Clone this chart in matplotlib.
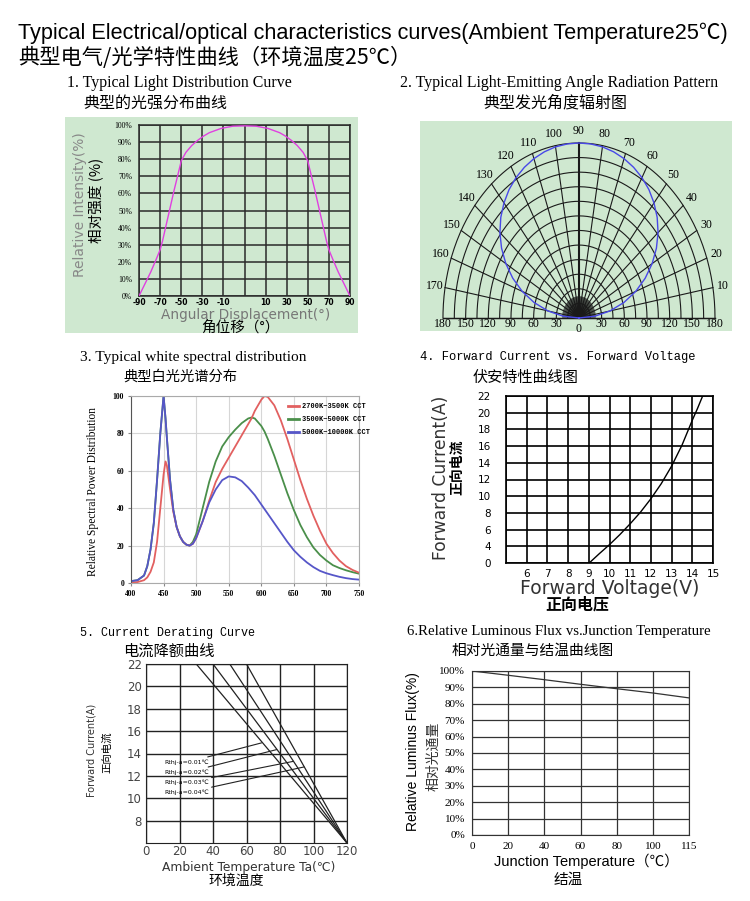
import numpy as np
import matplotlib
matplotlib.use('Agg')
import matplotlib.pyplot as plt

W, H = 750, 901
GREEN = '#cfe8d0'
SANS = ['Liberation Sans', 'Noto Sans CJK SC']
SERIF = ['Liberation Serif', 'Noto Sans CJK SC']
MONO = ['Liberation Mono', 'Noto Sans CJK SC']
DEJA = ['DejaVu Sans', 'Noto Sans CJK SC']
CJK = ['Noto Sans CJK SC', 'DejaVu Sans']

# 1. light distribution curve (angle in deg, relative intensity in %)
dist_angle = [-90, -85, -80, -75, -72, -70, -65, -60, -55, -54, -50, -45, -40, -35, -30, -20, -10, 0,
              10, 20, 30, 35, 40, 45, 50, 54, 55, 60, 65, 70, 72, 75, 80, 85, 90]
dist_int = [0, 7, 14, 22, 27, 32, 47, 62, 76, 79, 84, 88, 91, 93.5, 95.5, 98, 99.3, 99.5,
            99.3, 98, 95.5, 93.5, 91, 88, 84, 79, 76, 62, 47, 32, 27, 22, 14, 7, 0]
dist_ticks = ['-90', '-70', '-50', '-30', '-10', '', '10', '30', '50', '70', '90']

# 2. radiation pattern (angle in deg, relative intensity in %)
rad_angle = list(range(0, 181, 5))
rad_int = [0, 11.8, 23.2, 34.2, 44.4, 53.7, 62.1, 69.5, 75.9, 81.3, 85.8, 89.6, 92.6, 95.0, 96.9,
           98.3, 99.3, 99.8, 100, 99.8, 99.3, 98.3, 96.9, 95.0, 92.6, 89.6, 85.8, 81.3, 75.9,
           69.5, 62.1, 53.7, 44.4, 34.2, 23.2, 11.8, 0]

# 3. white spectra
wl = [400, 410, 420, 425, 430, 435, 440, 445, 450, 453, 455, 460, 465, 470, 475, 480, 485, 490, 495, 500,
      510, 520, 530, 540, 550, 560, 570, 580, 585, 590, 600, 605, 610, 620, 630, 640, 650, 660, 670, 680,
      690, 700, 710, 720, 730, 740, 750]
warm = [0, 0.5, 1.5, 3, 6, 11, 22, 40, 58, 65, 63, 50, 38, 30, 25, 22, 20.5, 20, 21, 24,
        33, 44, 54, 61, 67, 73, 79, 85, 88, 92, 98, 100, 99.5, 95, 87, 77, 66, 55, 45, 36,
        28, 21, 16, 12, 9, 7, 5.5]
neutral = [1, 1.5, 4, 9, 18, 32, 55, 80, 100, 88, 78, 55, 39, 30, 25, 22, 20.5, 20, 22, 26,
           40, 54, 65, 73, 78, 82, 85.5, 88, 88.5, 88, 84, 81, 77, 68, 58, 48, 39, 31, 24.5, 19,
           15, 12, 9.5, 8, 6.8, 5.8, 5]
cool = [1, 1.5, 4, 9, 18, 32, 55, 80, 100, 88, 78, 55, 39, 30, 25, 22, 20.5, 20, 21, 24,
        33, 43, 50, 55, 57, 56.5, 54.5, 51, 49, 47, 42, 39.5, 37, 32, 27, 22, 17.5, 14, 11, 8.5,
        6.5, 5.2, 4.2, 3.3, 2.6, 2.1, 1.8]
spec_labels = ['2700K~3500K CCT', '3500K~5000K CCT', '5000K~10000K CCT']

# 4. forward current vs voltage (current on the chart's own grid, bottom line labelled 0)
fv_volt = [9.02, 9.5, 10, 10.5, 11, 11.5, 12, 12.5, 13, 13.5, 14, 14.25, 14.5]
fv_curr = [2.0, 3.1, 4.2, 5.4, 6.7, 8.1, 9.7, 11.5, 13.6, 16.1, 19.1, 20.5, 22]
fv_ylabels = ['0', '4', '6', '8', '10', '12', '14', '16', '18', '20', '22']

# 5. current derating
derate_start = [30, 40, 50, 60]
derate_end = (120, 6)
rth_labels = ['Rthj-a=0.01℃', 'Rthj-a=0.02℃', 'Rthj-a=0.03℃', 'Rthj-a=0.04℃']
rth_text_y = [13.2, 12.3, 11.4, 10.5]
rth_tip = [(69, 14.95), (78, 14.35), (88, 13.3), (94.4, 12.8)]

# 6. luminous flux vs junction temperature
tj = [0, 20, 40, 60, 80, 100, 115]
flux = [100, 97.4, 94.7, 91.9, 89.2, 86.6, 83.6]

fig = plt.figure(figsize=(7.5, 9.01), dpi=100)


def box(l, t, r, b):
    return fig.add_axes([l / W, 1 - b / H, (r - l) / W, (b - t) / H])


def label(x, y, s, size, family=SANS, **kw):
    kw.setdefault('va', 'center')
    fig.text(x / W, 1 - y / H, s, fontsize=size, family=family, **kw)


def tick_font(ax, size, family, color='black', weight='normal'):
    for t in ax.get_xticklabels() + ax.get_yticklabels():
        t.set_fontsize(size)
        t.set_family(family)
        t.set_color(color)
        t.set_weight(weight)


# titles
label(18, 33, 'Typical Electrical/optical characteristics curves(Ambient Temperature25℃)', 15.6)
label(18, 58, '典型电气/光学特性曲线（环境温度25℃）', 15.3, CJK)
label(67, 83, '1. Typical Light Distribution Curve', 11.4, SERIF)
label(83, 103, '典型的光强分布曲线', 11.5, CJK)
label(400, 83, '2. Typical Light-Emitting Angle Radiation Pattern', 11.4, SERIF)
label(483, 103, '典型发光角度辐射图', 11.5, CJK)
label(80, 357, '3. Typical white spectral distribution', 11.1, SERIF)
label(123, 377, '典型白光光谱分布', 10.3, CJK)
label(420, 357, '4. Forward Current vs. Forward Voltage', 8.7, MONO)
label(473, 377, '伏安特性曲线图', 10.9, CJK)
label(80, 633, '5. Current Derating Curve', 8.5, MONO)
label(123, 651, '电流降额曲线', 11, CJK)
label(407, 632, '6.Relative Luminous Flux vs.Junction Temperature', 10.6, SERIF)
label(452, 651, '相对光通量与结温曲线图', 10.6, CJK)

# ---- 1. light distribution
bg = box(65, 117, 358, 333)
bg.set_facecolor(GREEN)
bg.set_xticks([])
bg.set_yticks([])
for s in bg.spines.values():
    s.set_visible(False)

ax1 = box(139, 125, 350, 296)
ax1.set_facecolor(GREEN)
ax1.plot(dist_angle, dist_int, color='#e040e0', lw=1, zorder=3)
ax1.set_xlim(-90, 90)
ax1.set_ylim(0, 100)
ax1.set_xticks(np.linspace(-90, 90, 11))
ax1.set_xticklabels(dist_ticks)
ax1.set_yticks(range(0, 101, 10))
ax1.set_yticklabels([f'{v}%' for v in range(0, 101, 10)])
ax1.grid(color='#2a2a2a', lw=1.1)
for s in ax1.spines.values():
    s.set_color('#2a2a2a')
    s.set_linewidth(1.1)
ax1.tick_params(length=0)
ax1.tick_params(axis='y', pad=5)
ax1.tick_params(axis='x', pad=1.5)
tick_font(ax1, 5.5, SERIF)
for t in ax1.get_xticklabels():
    t.set_family(DEJA)
    t.set_weight('bold')
label(80, 205, 'Relative Intensity(%)', 10, DEJA, rotation=90, ha='center', color='#888888')
label(97, 200, '相对强度 (%)', 10.5, CJK, rotation=90, ha='center')
label(246, 314.5, 'Angular Displacement(°)', 9.8, DEJA, ha='center', color='#777777')
label(240, 327.5, '角位移（°）', 10.5, CJK, ha='center')

# ---- 2. radiation pattern
ax2 = box(420, 121, 732, 331)
ax2.set_facecolor(GREEN)
ax2.set_xticks([])
ax2.set_yticks([])
for s in ax2.spines.values():
    s.set_visible(False)
ax2.set_xlim(-210.4, 202.5)
ax2.set_ylim(-13.4, 202.6)
t = np.linspace(0, np.pi, 200)
for r in range(15, 181, 15):
    ax2.plot(r * np.cos(t), r * np.sin(t), color='#1a1a1a', lw=0.8)
for a in range(0, 181, 10):
    th = np.radians(a)
    ax2.plot([0, 180 * np.cos(th)], [0, 180 * np.sin(th)], color='#1a1a1a',
             lw=1.5 if a == 90 else 0.8)
for a in range(0, 181, 2):
    th = np.radians(a)
    ax2.plot([0, 22 * np.cos(th)], [0, 22 * np.sin(th)], color='#1a1a1a', lw=0.4)
ax2.plot([-180, 180], [0, 0], color='#1a1a1a', lw=1)
th = np.radians(rad_angle)
rr = np.array(rad_int) * 1.8
ax2.plot(rr * np.cos(th), rr * np.sin(th), color='#4848e8', lw=1, zorder=4)
for a in range(10, 171, 10):
    th = np.radians(a)
    ax2.text(194 * np.cos(th), 192 * np.sin(th), str(a), ha='center', va='center',
             fontsize=8.5, family=SERIF)
for r in range(30, 181, 30):
    for sgn in (-1, 1):
        ax2.text(sgn * r, -6.5, str(r), ha='center', va='center', fontsize=8.5, family=SERIF)
ax2.text(0, -11, '0', ha='center', va='center', fontsize=8.5, family=SERIF)

# ---- 3. spectra
ax3 = box(131, 396, 359, 583)
ax3.plot(wl, neutral, color='#4a8f4a', lw=1.3, label=spec_labels[1])
ax3.plot(wl, warm, color='#e26060', lw=1.3, label=spec_labels[0])
ax3.plot(wl, cool, color='#5656c8', lw=1.3, label=spec_labels[2])
ax3.set_xlim(400, 750)
ax3.set_ylim(0, 100)
ax3.set_xticks(range(400, 751, 50))
ax3.set_yticks(range(0, 101, 20))
ax3.grid(color='#d6d6d6', lw=0.8)
for s in ax3.spines.values():
    s.set_color('#aaaaaa')
    s.set_linewidth(0.8)
ax3.spines['left'].set_color('#555555')
ax3.tick_params(length=2, color='#888888', pad=3)
tick_font(ax3, 5.5, SERIF, weight='bold')
h, lab = ax3.get_legend_handles_labels()
order = [1, 0, 2]
leg = ax3.legend([h[i] for i in order], [lab[i] for i in order], loc='upper left',
                 bbox_to_anchor=(0.69, 0.96), frameon=False, borderpad=0, borderaxespad=0,
                 handlelength=1.6, handletextpad=0.3, labelspacing=0.85,
                 prop={'family': MONO, 'size': 5, 'weight': 'bold'})
for ln in leg.get_lines():
    ln.set_linewidth(2)
label(93, 492, 'Relative Spectral Power Distribution', 8.3, SERIF, rotation=90, ha='center')

# ---- 4. forward current vs voltage
ax4 = box(506, 396, 713, 563)
ax4.plot(fv_volt, fv_curr, color='black', lw=1)
ax4.set_xlim(5, 15)
ax4.set_ylim(2, 22)
ax4.set_xticks(range(5, 16))
ax4.set_xticklabels([''] + [str(v) for v in range(6, 16)])
ax4.set_yticks(range(2, 23, 2))
ax4.set_yticklabels(fv_ylabels)
ax4.grid(color='black', lw=1.2)
for s in ax4.spines.values():
    s.set_linewidth(1.2)
ax4.tick_params(length=0)
ax4.tick_params(axis='y', pad=11)
ax4.tick_params(axis='x', pad=4)
tick_font(ax4, 7.5, DEJA)
label(441, 478, 'Forward Current(A)', 12.3, DEJA, rotation=90, ha='center', color='#333333')
label(457, 467, '正向电流', 10, CJK, rotation=90, ha='center', weight='bold')
label(610, 589, 'Forward Voltage(V)', 13.5, DEJA, ha='center', color='#333333')
label(577, 605, '正向电压', 11.5, CJK, ha='center', weight='bold')

# ---- 5. current derating
ax5 = box(146, 664, 347, 843)
for t0 in derate_start:
    ax5.plot([t0, derate_end[0]], [22, derate_end[1]], color='#222222', lw=0.9)
for s, ty, tip in zip(rth_labels, rth_text_y, rth_tip):
    ax5.annotate(s, xy=tip, xytext=(37.5, ty), ha='right', va='center', fontsize=4.5,
                 family=DEJA, arrowprops=dict(arrowstyle='-', lw=0.8, color='#222222',
                                              shrinkA=0, shrinkB=0))
ax5.set_xlim(0, 120)
ax5.set_ylim(6, 22)
ax5.set_xticks(range(0, 121, 20))
ax5.set_yticks(range(8, 23, 2))
ax5.grid(color='#222222', lw=1)
for s in ax5.spines.values():
    s.set_color('#222222')
ax5.tick_params(length=0, pad=3)
ax5.tick_params(axis='x', pad=1.5)
tick_font(ax5, 8.5, DEJA, color='#444444')
label(92, 750, 'Forward Current(A)', 7, DEJA, rotation=90, ha='center', color='#333333')
label(107, 752, '正向电流', 7.5, CJK, rotation=90, ha='center')
label(249, 867, 'Ambient Temperature Ta(℃)', 8.8, DEJA, ha='center', color='#333333')
label(236, 881, '环境温度', 10, CJK, ha='center')

# ---- 6. luminous flux
ax6 = box(472, 671, 689, 835)
xpos = np.arange(len(tj))
ax6.plot(xpos, flux, color='#333333', lw=0.9)
ax6.set_xlim(0, len(tj) - 1)
ax6.set_ylim(0, 100)
ax6.set_xticks(xpos)
ax6.set_xticklabels([str(v) for v in tj])
ax6.set_yticks(range(0, 101, 10))
ax6.set_yticklabels([f'{v}%' for v in range(0, 101, 10)])
ax6.grid(color='#333333', lw=0.9)
for s in ax6.spines.values():
    s.set_color('#333333')
ax6.tick_params(length=0)
ax6.tick_params(axis='y', pad=5)
ax6.tick_params(axis='x', pad=5)
tick_font(ax6, 8, SERIF)
label(413, 752, 'Relative Luminus Flux(%)', 10, SANS, rotation=90, ha='center')
label(433, 756, '相对光通量', 10, CJK, rotation=90, ha='center', color='#333333')
label(586, 861, 'Junction Temperature（℃）', 10.5, SANS, ha='center')
label(568, 880, '结温', 10.5, CJK, ha='center')

fig.savefig('out.png', dpi=100)
